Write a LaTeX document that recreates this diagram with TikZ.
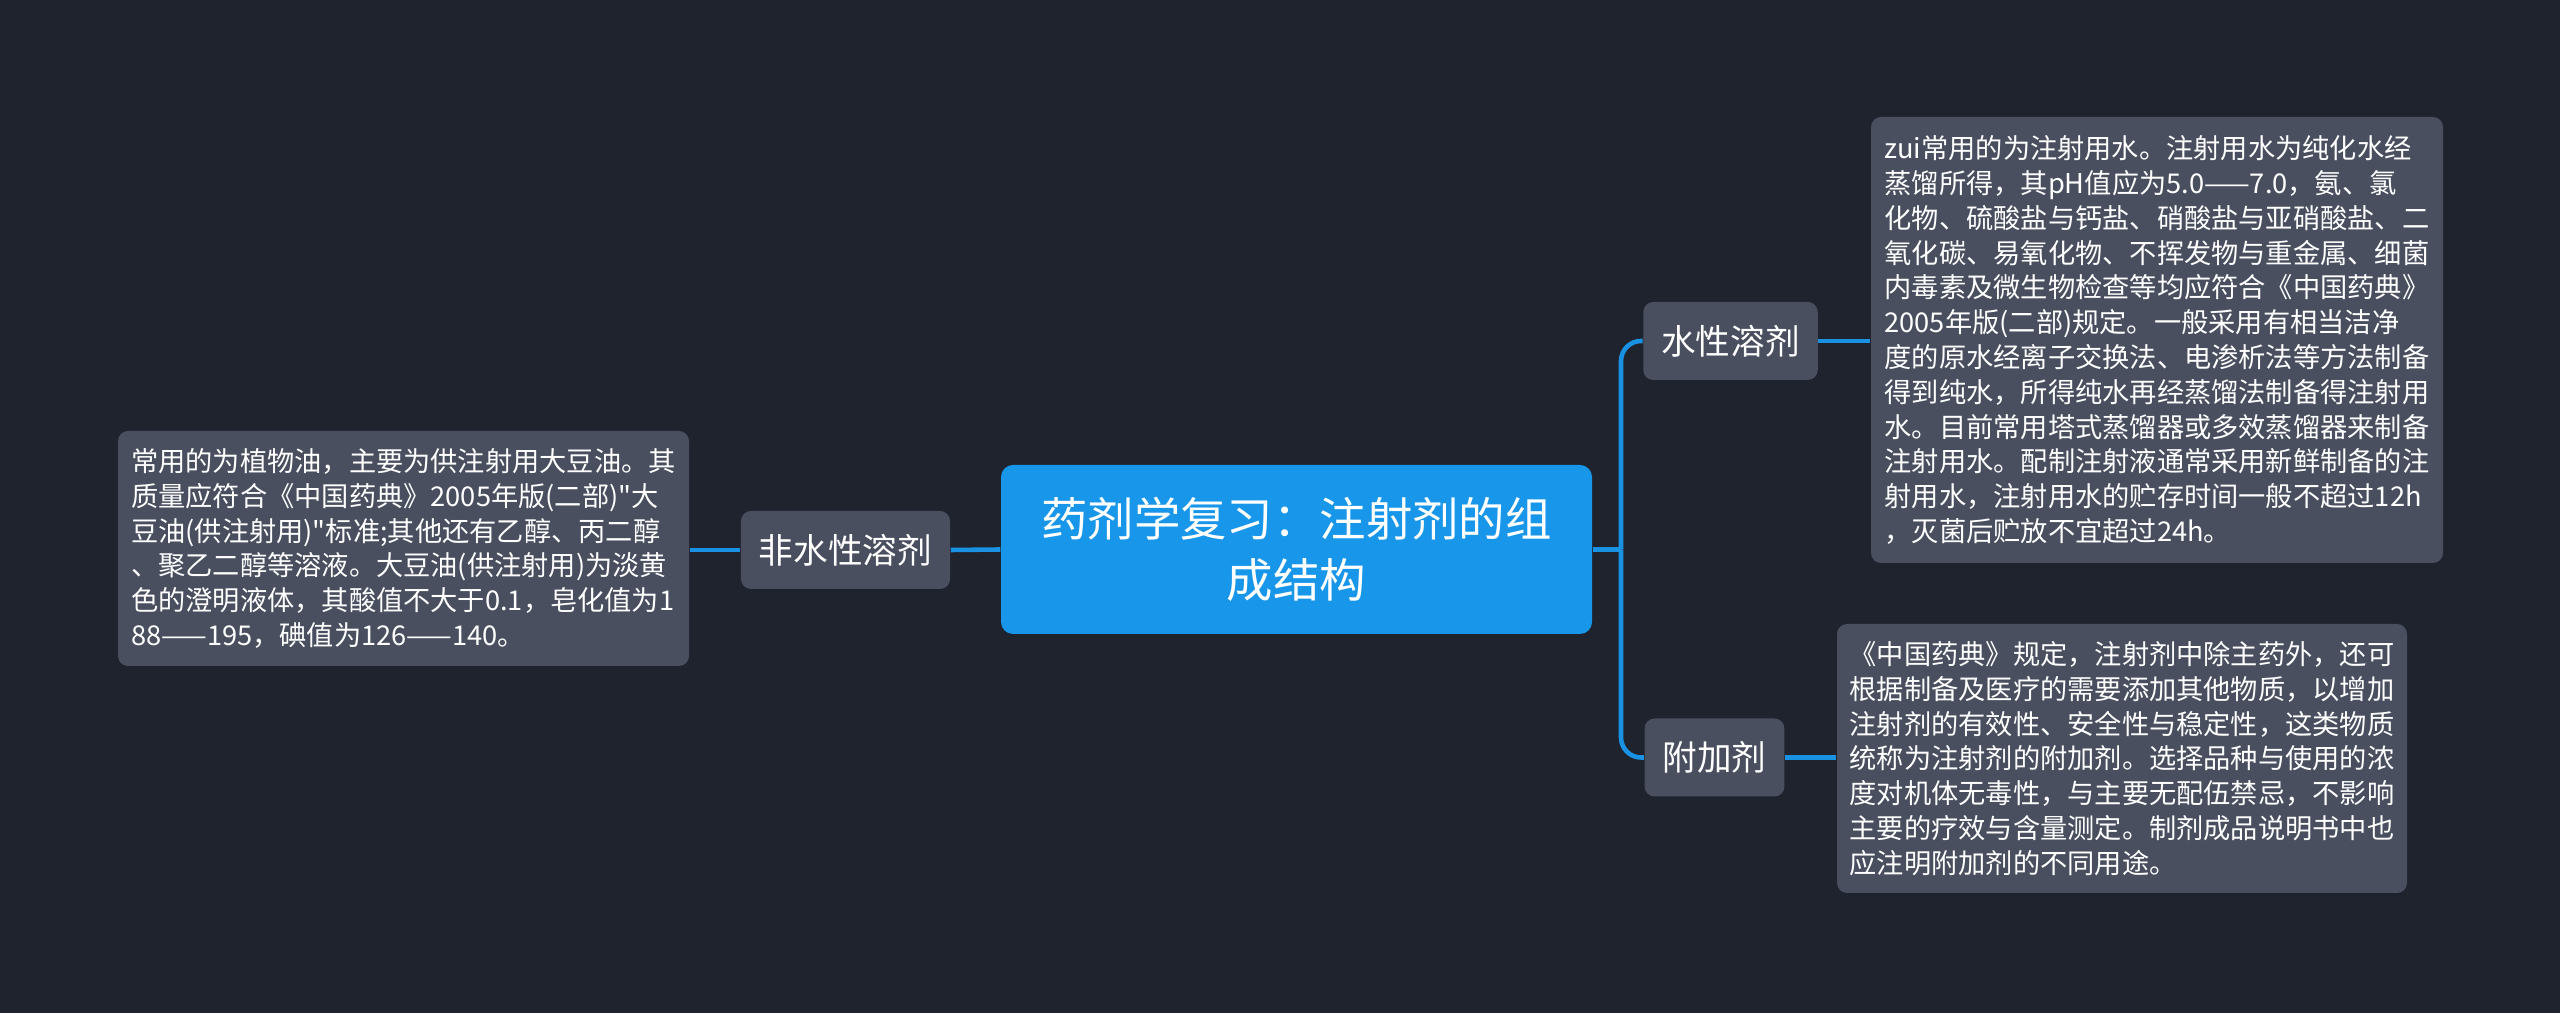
\documentclass[tikz,border=0pt]{standalone}
\usepackage{fontspec}
\setmainfont{Noto Sans CJK SC}[Ligatures=TeXOff]
\usetikzlibrary{positioning}
\definecolor{bgdark}{RGB}{31,35,46}
\definecolor{rootblue}{RGB}{24,150,234}
\definecolor{boxgray}{RGB}{73,79,95}
\definecolor{linkblue}{RGB}{26,146,228}

\tikzset{
  root/.style={fill=rootblue, rounded corners=0.12cm, text=white, align=center,
    font=\fontsize{13.2pt}{17.2pt}\selectfont, minimum width=5.91cm, minimum height=1.69cm, inner sep=0pt},
  topic/.style={fill=boxgray, rounded corners=0.1cm, text=white,
    font=\fontsize{9.85pt}{12pt}\selectfont, minimum height=0.78cm, inner xsep=0.18cm, inner ysep=0pt},
  leaf/.style={fill=boxgray, rounded corners=0.1cm, text=white, align=left,
    font=\fontsize{7.75pt}{9.9pt}\selectfont, inner xsep=0.12cm, inner ysep=0pt},
  link/.style={draw=linkblue, line width=1.3pt, rounded corners=0.2cm},
}

\begin{document}
\begin{tikzpicture}
  % background
  \fill[bgdark] (0,0) rectangle (25.6,10.13);
  \useasboundingbox (0,0) rectangle (25.6,10.13);

  % root
  \node[root] (root) at (12.965,4.635) {药剂学复习：注射剂的组\\成结构};

  % left side
  \node[topic] (nonaq) at (8.455,4.63) {非水性溶剂};
  \node[leaf, minimum width=5.71cm, minimum height=2.35cm] (nonaqtext) at (4.035,4.645)
    {常用的为植物油，主要为供注射用大豆油。其\\
     质量应符合《中国药典》2005年版(二部)"大\\
     豆油(供注射用)"标准;其他还有乙醇、丙二醇\\
     、聚乙二醇等溶液。大豆油(供注射用)为淡黄\\
     色的澄明液体，其酸值不大于0.1，皂化值为1\\
     88——195，碘值为126——140。};

  % right side
  \node[topic] (aq) at (17.305,6.72) {水性溶剂};
  \node[topic] (additive) at (17.145,2.555) {附加剂};
  \node[leaf, minimum width=5.72cm, minimum height=4.46cm] (aqtext) at (21.57,6.73)
    {zui常用的为注射用水。注射用水为纯化水经\\
     蒸馏所得，其pH值应为5.0——7.0，氨、氯\\
     化物、硫酸盐与钙盐、硝酸盐与亚硝酸盐、二\\
     氧化碳、易氧化物、不挥发物与重金属、细菌\\
     内毒素及微生物检查等均应符合《中国药典》\\
     2005年版(二部)规定。一般采用有相当洁净\\
     度的原水经离子交换法、电渗析法等方法制备\\
     得到纯水，所得纯水再经蒸馏法制备得注射用\\
     水。目前常用塔式蒸馏器或多效蒸馏器来制备\\
     注射用水。配制注射液通常采用新鲜制备的注\\
     射用水，注射用水的贮存时间一般不超过12h\\
     ，灭菌后贮放不宜超过24h。};
  \node[leaf, minimum width=5.70cm, minimum height=2.69cm] (additivetext) at (21.22,2.545)
    {《中国药典》规定，注射剂中除主药外，还可\\
     根据制备及医疗的需要添加其他物质，以增加\\
     注射剂的有效性、安全性与稳定性，这类物质\\
     统称为注射剂的附加剂。选择品种与使用的浓\\
     度对机体无毒性，与主要无配伍禁忌，不影响\\
     主要的疗效与含量测定。制剂成品说明书中也\\
     应注明附加剂的不同用途。};

  % links
  \coordinate (trunk) at (16.21,4.635);
  \draw[link] (root.west) -- (nonaq.east);
  \draw[link] (nonaq.west) -- (nonaq.west -| nonaqtext.east);
  \draw[link] (root.east) -- (trunk);
  \draw[link] (trunk) |- (aq.west);
  \draw[link] (trunk) |- (additive.west);
  \draw[link] (aq.east) -- (aq.east -| aqtext.west);
  \draw[link] (additive.east) -- (additive.east -| additivetext.west);
\end{tikzpicture}
\end{document}
